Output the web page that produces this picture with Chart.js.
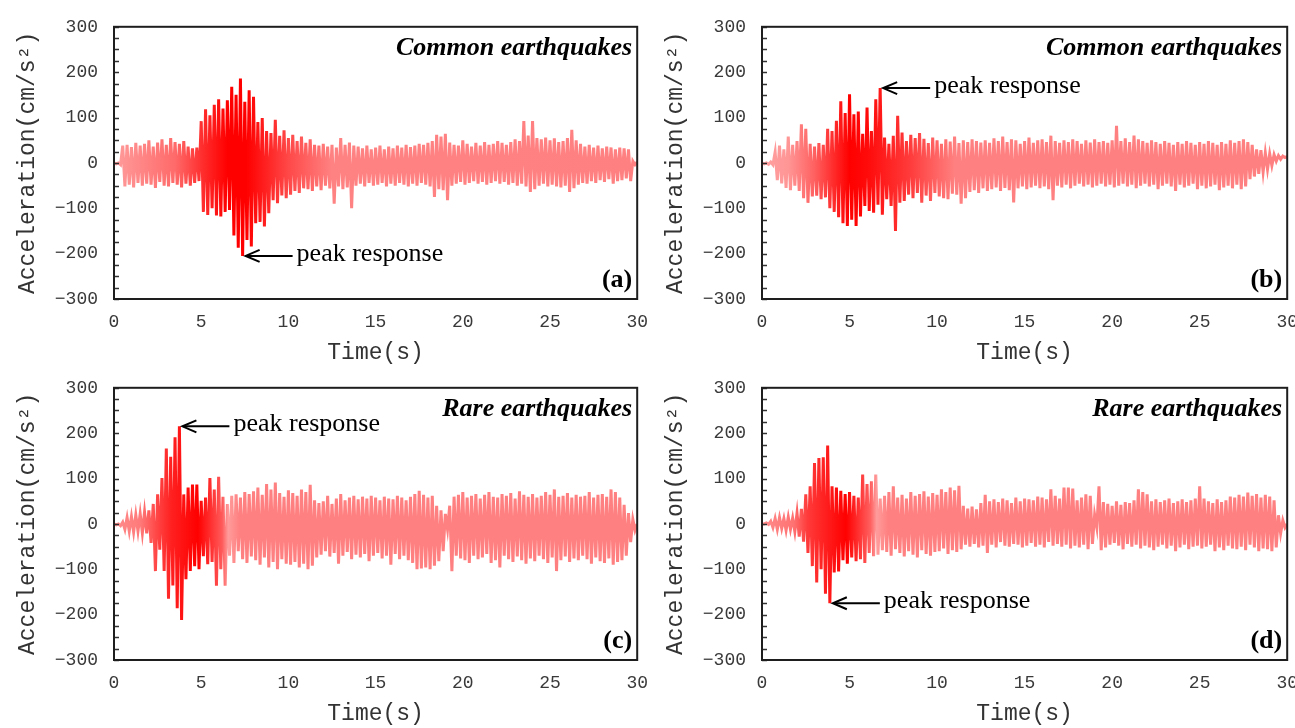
<!DOCTYPE html>
<html lang="en">

<head>
    <meta charset="UTF-8">
    <title>Acceleration time histories</title>
    <script src="https://cdn.jsdelivr.net/npm/chart.js"></script>
    <style>
        html, body { margin: 0; padding: 0; background: #fff; overflow: hidden; }
        #wrap { position: relative; width: 1295px; height: 728px; overflow: hidden; }
        canvas { position: absolute; }
    </style>
</head>

<body>
    <div id="wrap">
        <canvas id="chartA" width="660" height="364" style="left:0;top:0"></canvas>
        <canvas id="chartB" width="662" height="364" style="left:648px;top:0"></canvas>
        <canvas id="chartC" width="660" height="364" style="left:0;top:361px"></canvas>
        <canvas id="chartD" width="662" height="364" style="left:648px;top:361px"></canvas>
    </div>
</body>

<script>
    // peaks: one positive peak every 0.25 s, one negative peak 0.125 s later
    const peakStep = 0.25;
    const xTicks = [0, 5, 10, 15, 20, 25, 30];

    // (a) common earthquakes, record 1
    const upA = [
        0, 0, 38, 40,
        35, 44, 38, 42,
        50, 36, 45, 52,
        40, 55, 46, 42,
        48, 36, 32, 34,
        92, 118, 105, 128,
        140, 120, 138, 168,
        150, 186, 135, 160,
        146, 90, 99, 70,
        66, 95, 60, 72,
        55, 62, 48, 58,
        44, 52, 40, 38,
        42, 36, 40, 34,
        55, 40, 45, 38,
        36, 32, 38, 30,
        34, 38, 30, 36,
        32, 38, 34, 40,
        35, 38, 42, 40,
        44, 48, 62, 58,
        64, 45, 40, 38,
        50, 42, 36, 44,
        38, 46, 40, 42,
        48, 44, 40, 46,
        52, 48, 92, 60,
        92, 55, 52, 56,
        50, 54, 46, 48,
        55, 73, 50, 42,
        36, 40, 34, 38,
        32, 36, 34, 30,
        34, 32, 30, 4
    ];
    const downA = [
        -2, -4, -52, -48,
        -54, -44, -50, -46,
        -48, -55, -42, -50,
        -52, -44, -48, -54,
        -46, -50, -44, -40,
        -108, -115, -100, -116,
        -118, -108, -104, -160,
        -187, -205, -170, -184,
        -133, -130, -140, -111,
        -82, -89, -72, -78,
        -70, -62, -66, -56,
        -58, -62, -52, -60,
        -50, -56, -90, -52,
        -58, -54, -100, -50,
        -46, -52, -44, -50,
        -48, -44, -52, -46,
        -50, -44, -48, -52,
        -46, -50, -44, -48,
        -52, -75, -58, -60,
        -82, -50, -46, -42,
        -48, -44, -40, -46,
        -42, -48, -44, -40,
        -46, -42, -48, -44,
        -50, -46, -52, -64,
        -58, -50, -46, -52,
        -48, -52, -54, -50,
        -64, -56, -48, -44,
        -46, -40, -44, -38,
        -42, -36, -46, -40,
        -38, -34, -40, -4
    ];
    const endA = 2;

    // (b) common earthquakes, record 2
    const upB = [
        0, 0, 2, 24,
        38, 30, 58, 40,
        48, 85, 75, 42,
        36, 44, 40, 75,
        70, 93, 136, 110,
        151, 107, 113, 64,
        122, 70, 140, 165,
        56, 42, 60, 104,
        67, 48, 62, 55,
        66, 53, 44, 56,
        50, 42, 52, 47,
        58, 44, 50, 46,
        52, 48, 45, 50,
        44, 54, 48, 58,
        46, 52, 50, 42,
        48, 56, 44, 50,
        52, 46, 60, 48,
        44, 50, 46, 52,
        48, 42, 50, 45,
        52, 46, 48, 44,
        50, 82, 48, 54,
        46, 60, 52, 48,
        44, 50, 46, 42,
        48, 44, 40, 46,
        42, 48, 44, 40,
        46, 42, 48, 44,
        40, 46, 42, 50,
        44, 48, 52, 46,
        40, 30, 28, 22,
        20, 18, 16, 15
    ];
    const downB = [
        -2, -3, -4, -38,
        -45, -55, -60, -50,
        -62, -78, -88, -74,
        -72, -80, -76, -100,
        -108, -120, -133, -139,
        -125, -139, -118, -95,
        -106, -110, -92, -114,
        -80, -95, -150, -88,
        -84, -70, -78, -66,
        -88, -72, -84, -66,
        -74, -78, -80, -68,
        -70, -90, -78, -64,
        -60, -66, -56, -62,
        -58, -54, -62, -55,
        -60, -87, -56, -52,
        -58, -54, -50, -56,
        -52, -58, -82, -50,
        -54, -48, -56, -50,
        -46, -52, -48, -54,
        -50, -46, -52, -48,
        -54, -50, -46, -52,
        -48, -56, -50, -46,
        -52, -48, -58, -50,
        -46, -52, -62, -48,
        -54, -50, -46, -58,
        -50, -56, -52, -48,
        -60, -54, -50, -56,
        -48, -58, -52, -36,
        -30, -24, -20, -14,
        -6, 4, 8, 12
    ];
    const endB = 14;

    // (c) rare earthquakes, record 1
    const upC = [
        0, 0, 4, 14,
        16, 20, 22, 26,
        30, 44, 65, 101,
        166, 148, 191, 215,
        65, 80, 87, 87,
        51, 58, 101, 76,
        104, 60, 44, 62,
        65, 58, 70, 66,
        72, 80, 64, 88,
        76, 91, 68, 60,
        74, 68, 62, 76,
        70, 86, 52, 46,
        50, 62, 44, 56,
        66, 52, 58, 62,
        54, 60, 56, 62,
        58, 52, 60, 56,
        54, 62, 58, 52,
        60, 66, 73, 64,
        58, 62, 40, 30,
        22, 40, 60, 64,
        70, 58, 62, 66,
        56, 64, 70, 60,
        58, 66, 62, 68,
        56, 72, 64, 60,
        66, 58, 62, 70,
        64, 76, 60, 62,
        68, 58, 64, 60,
        62, 70, 58, 64,
        66, 60, 76, 70,
        58, 42, 24, 10
    ];
    const downC = [
        -2, -4, -12, -16,
        -18, -16, -20, -21,
        -42, -104, -57, -104,
        -165, -136, -186, -212,
        -122, -104, -93, -100,
        -71, -89, -84, -136,
        -100, -136, -70, -86,
        -60, -78, -86, -72,
        -80, -90, -74, -96,
        -84, -100, -78, -88,
        -90, -84, -96, -88,
        -100, -92, -74, -68,
        -60, -72, -64, -88,
        -70, -62, -78, -68,
        -74, -66, -82, -70,
        -64, -76, -70, -90,
        -66, -78, -70, -80,
        -86, -100, -98, -96,
        -100, -92, -82, -60,
        -12, -104, -70, -76,
        -80, -86, -70, -78,
        -74, -66, -86, -80,
        -96, -70, -78, -84,
        -72, -80, -88, -76,
        -82, -70, -78, -86,
        -74, -104, -80, -72,
        -84, -76, -80, -70,
        -78, -88, -74, -82,
        -86, -76, -90, -84,
        -80, -70, -40, -14
    ];
    const endC = 0;

    // (d) rare earthquakes, record 2
    const upD = [
        0, 2, 6, 12,
        14, 12, 15, 13,
        24, 33, 65, 83,
        134, 145, 147, 173,
        83, 80, 73, 66,
        70, 62, 58, 109,
        88, 94, 109, 56,
        62, 70, 83, 58,
        64, 56, 70, 62,
        66, 72, 60, 68,
        64, 76, 70, 80,
        74, 84, 40, 34,
        38, 32, 46, 64,
        50, 54, 48, 56,
        52, 46, 58, 50,
        56, 54, 52, 60,
        58, 54, 76, 62,
        56, 80, 80, 78,
        52, 58, 65, 62,
        20, 83, 48, 44,
        40, 50, 42, 48,
        46, 52, 76, 70,
        65, 50, 54, 48,
        52, 56, 46, 50,
        54, 48, 52, 56,
        83, 56, 50, 46,
        54, 48, 52, 60,
        58, 64, 60, 69,
        62, 66, 58, 64,
        60, 52, 19, 8
    ];
    const downD = [
        0, -1, -8, -12,
        -10, -14, -12, -17,
        -28, -39, -64, -93,
        -129, -100, -154, -175,
        -107, -105, -80, -88,
        -74, -82, -78, -86,
        -64, -71, -68, -58,
        -62, -70, -56, -64,
        -72, -60, -68, -74,
        -58, -66, -70, -62,
        -60, -54, -66, -58,
        -62, -56, -46, -50,
        -44, -52, -48, -64,
        -46, -52, -40, -48,
        -50, -44, -46, -52,
        -48, -42, -50, -46,
        -52, -40, -48, -44,
        -50, -46, -54, -48,
        -52, -46, -56, -44,
        -8, -58, -52, -46,
        -42, -48, -56, -44,
        -50, -46, -54, -48,
        -52, -58, -50, -46,
        -54, -48, -60, -52,
        -46, -56, -50, -48,
        -54, -50, -46, -60,
        -52, -58, -48, -54,
        -56, -50, -58, -46,
        -52, -60, -54, -56,
        -60, -52, -21, -8
    ];
    const endD = 0;

    // line colour along the time axis (seconds, colour)
    const shadeA = [[0, '#ff9c9c'], [3.5, '#ff6a6a'], [5, '#ff3030'], [6.5, '#ff0000'], [7.6, '#ff0000'], [10, '#ff4848'], [12.5, '#ff8282'], [30, '#ff8080']];
    const shadeB = [[0, '#ffa0a0'], [1.5, '#ff9696'], [3, '#ff6060'], [5, '#ff0000'], [6, '#ff0a0a'], [8.5, '#ff3c3c'], [11, '#ff8080'], [30, '#ff8080']];
    const shadeC = [[0, '#ff8c8c'], [1.5, '#ff7a7a'], [2.4, '#ff4848'], [3.3, '#ff2020'], [4.8, '#ff0000'], [6.2, '#ff5a5a'], [6.55, '#ff9c9c'], [7.2, '#ff8080'], [30, '#ff8080']];
    const shadeD = [[0, '#ff8c8c'], [1.8, '#ff7272'], [2.6, '#ff3a3a'], [4.8, '#ff0000'], [6.2, '#ff6060'], [6.55, '#ff9c9c'], [7.2, '#ff8080'], [30, '#ff8080']];

    function buildSeries(up, down, end) {
        let pts = [];
        for (let i = 0; i < up.length; i++) {
            let t = i * peakStep;
            pts.push({ x: t, y: up[i] });
            pts.push({ x: t + peakStep / 2, y: down[i] });
        }
        pts.push({ x: 30, y: end });
        return pts;
    }

    function lineShade(stops) {
        return function (context) {
            let chart = context.chart;
            if (!chart.chartArea) return stops[stops.length - 1][1];
            let xs = chart.scales.x;
            let x0 = xs.getPixelForValue(0), x1 = xs.getPixelForValue(30);
            let g = chart.ctx.createLinearGradient(x0, 0, x1, 0);
            stops.forEach((s) => g.addColorStop(s[0] / 30, s[1]));
            return g;
        };
    }

    // frame, inward minor ticks, panel labels and the peak arrow
    const decorations = {
        id: 'decorations',
        afterDatasetsDraw(chart, args, opts) {
            let ctx = chart.ctx, a = chart.chartArea;
            let xs = chart.scales.x, ys = chart.scales.y;
            ctx.save();
            ctx.strokeStyle = '#333';
            ctx.lineWidth = 1.5;
            ys.ticks.forEach((t) => {
                let y = Math.round(ys.getPixelForValue(t.value)) + 0.5;
                ctx.beginPath();
                ctx.moveTo(a.left, y);
                ctx.lineTo(a.left + 5, y);
                ctx.stroke();
            });
            ctx.lineWidth = 2;
            ctx.strokeStyle = '#1e1e1e';
            ctx.strokeRect(a.left, a.top, a.right - a.left, a.bottom - a.top);

            ctx.fillStyle = '#000';
            ctx.textAlign = 'right';
            ctx.textBaseline = 'alphabetic';
            ctx.font = 'bold italic 26px "Liberation Serif"';
            ctx.fillText(opts.title, a.right - 5, a.top + 28);
            ctx.font = 'bold 26px "Liberation Serif"';
            ctx.fillText(opts.tag, a.right - 5, a.bottom - 12);

            let data = chart.data.datasets[0].data;
            let p = data[0];
            data.forEach((d) => {
                if (opts.peak === 'max' ? d.y > p.y : d.y < p.y) p = d;
            });
            let px = xs.getPixelForValue(p.x) + 2, py = ys.getPixelForValue(p.y);
            ctx.strokeStyle = '#000';
            ctx.lineWidth = 2;
            ctx.beginPath();
            ctx.moveTo(px + 2, py);
            ctx.lineTo(px + 48, py);
            ctx.stroke();
            ctx.beginPath();
            ctx.moveTo(px + 15, py - 6);
            ctx.lineTo(px + 1, py);
            ctx.lineTo(px + 15, py + 6);
            ctx.stroke();
            ctx.textAlign = 'left';
            ctx.font = '26px "Liberation Serif"';
            ctx.fillText('peak response', px + 52, py + 5);
            ctx.restore();
        }
    };

    function makePanel(id, series, shade, title, tag, peak) {
        let ctx = document.getElementById(id).getContext('2d');
        return new Chart(ctx, {
            type: 'line',
            data: {
                datasets: [{
                    data: series,
                    borderColor: lineShade(shade),
                    borderWidth: 3,
                    pointRadius: 0,
                    tension: 0,
                    fill: false
                }]
            },
            options: {
                responsive: false,
                animation: false,
                layout: { padding: { top: 17, right: 11, left: 0, bottom: 0 } },
                plugins: {
                    legend: { display: false },
                    tooltip: { enabled: false },
                    decorations: { title: title, tag: tag, peak: peak }
                },
                scales: {
                    x: {
                        type: 'linear',
                        min: 0,
                        max: 30,
                        afterFit: (s) => { s.height = 65; },
                        afterBuildTicks: (s) => { s.ticks = xTicks.map((v) => ({ value: v })); },
                        grid: { display: false, drawTicks: false },
                        border: { display: false },
                        ticks: {
                            padding: 12,
                            maxRotation: 0,
                            color: '#3a3a3a',
                            font: { family: 'Liberation Mono', size: 18 }
                        },
                        title: {
                            display: true,
                            text: 'Time(s)',
                            color: '#333',
                            padding: 0,
                            font: { family: 'Liberation Mono', size: 23, lineHeight: 1 }
                        }
                    },
                    y: {
                        min: -300,
                        max: 300,
                        afterFit: (s) => { s.width = 114; },
                        grid: { display: false, drawTicks: false },
                        border: { display: false },
                        ticks: {
                            stepSize: 25,
                            autoSkip: false,
                            padding: 16,
                            color: '#3a3a3a',
                            font: { family: 'Liberation Mono', size: 18 },
                            callback: (v) => (v % 100 === 0 ? String(v).replace('-', '\u2212') : '')
                        },
                        title: {
                            display: true,
                            text: 'Acceleration(cm/s\u00b2)',
                            color: '#333',
                            padding: { top: 16, bottom: 0 },
                            font: { family: 'Liberation Mono', size: 23, lineHeight: 1 }
                        }
                    }
                }
            },
            plugins: [decorations]
        });
    }

    makePanel('chartA', buildSeries(upA, downA, endA), shadeA, 'Common earthquakes', '(a)', 'min');
    makePanel('chartB', buildSeries(upB, downB, endB), shadeB, 'Common earthquakes', '(b)', 'max');
    makePanel('chartC', buildSeries(upC, downC, endC), shadeC, 'Rare earthquakes', '(c)', 'max');
    makePanel('chartD', buildSeries(upD, downD, endD), shadeD, 'Rare earthquakes', '(d)', 'min');
</script>

</html>
